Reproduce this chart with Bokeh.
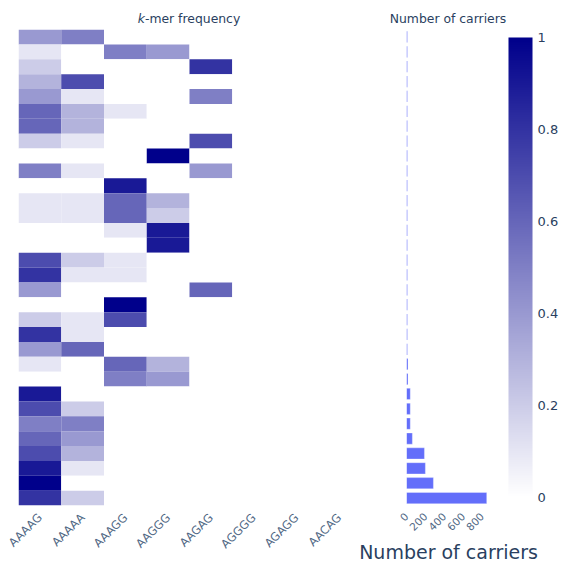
from bokeh.plotting import figure
from bokeh.layouts import row, column
from bokeh.models import (ColumnDataSource, Range1d, LinearColorMapper, ColorBar,
                          FixedTicker, CustomJSTickFormatter, Div)
from bokeh.transform import transform
from bokeh.embed import file_html
from bokeh.resources import INLINE

# ---------------- data ----------------
kmers = ["AAAAG", "AAAAA", "AAAGG", "AAGGG", "AAGAG", "AGGGG", "AGAGG", "AACAG"]
n_rows = 32
rows = list(range(n_rows))

freq_AAAAG = [0.4, 0.1, 0.2, 0.3, 0.4, 0.6, 0.6, 0.2, 0.0, 0.5, 0.0, 0.1, 0.1, 0.0, 0.0, 0.7,
              0.8, 0.4, 0.0, 0.2, 0.8, 0.4, 0.1, 0.0, 0.9, 0.7, 0.5, 0.6, 0.7, 0.9, 1.0, 0.8]
freq_AAAAA = [0.5, 0.0, 0.0, 0.7, 0.1, 0.3, 0.3, 0.1, 0.0, 0.1, 0.0, 0.1, 0.1, 0.0, 0.0, 0.2,
              0.1, 0.0, 0.0, 0.1, 0.1, 0.6, 0.0, 0.0, 0.0, 0.2, 0.5, 0.4, 0.3, 0.1, 0.0, 0.2]
freq_AAAGG = [0.0, 0.5, 0.0, 0.0, 0.0, 0.1, 0.0, 0.0, 0.0, 0.0, 0.9, 0.6, 0.6, 0.1, 0.0, 0.1,
              0.1, 0.0, 1.0, 0.7, 0.0, 0.0, 0.6, 0.5, 0.0, 0.0, 0.0, 0.0, 0.0, 0.0, 0.0, 0.0]
freq_AAGGG = [0.0, 0.4, 0.0, 0.0, 0.0, 0.0, 0.0, 0.0, 1.0, 0.0, 0.0, 0.3, 0.2, 0.9, 0.9, 0.0,
              0.0, 0.0, 0.0, 0.0, 0.0, 0.0, 0.3, 0.4, 0.0, 0.0, 0.0, 0.0, 0.0, 0.0, 0.0, 0.0]
freq_AAGAG = [0.0, 0.0, 0.8, 0.0, 0.5, 0.0, 0.0, 0.7, 0.0, 0.4, 0.0, 0.0, 0.0, 0.0, 0.0, 0.0,
              0.0, 0.6, 0.0, 0.0, 0.0, 0.0, 0.0, 0.0, 0.0, 0.0, 0.0, 0.0, 0.0, 0.0, 0.0, 0.0]
freq_AGGGG = [0.0] * n_rows
freq_AGAGG = [0.0] * n_rows
freq_AACAG = [0.0] * n_rows

carriers = [10, 10, 10, 10, 10, 10, 10, 10, 10, 10, 10, 10, 10, 10, 10, 10,
            10, 10, 10, 10, 10, 10, 16, 16, 40, 40, 40, 62, 190, 200, 285, 850]

colorbar_ticks = [0, 0.2, 0.4, 0.6, 0.8, 1]
carrier_ticks = [0, 200, 400, 600, 800]

# ---------------- build ----------------
columns = [freq_AAAAG, freq_AAAAA, freq_AAAGG, freq_AAGGG, freq_AAGAG,
           freq_AGGGG, freq_AGAGG, freq_AACAG]
xs, ys, vs = [], [], []
for k, col in zip(kmers, columns):
    for r, v in zip(rows, col):
        xs.append(k)
        ys.append(r)
        vs.append(v)
heat_src = ColumnDataSource(dict(kmer=xs, row=ys, val=vs))
bar_src = ColumnDataSource(dict(row=rows, carriers=carriers))

# white -> darkblue palette
palette = []
for i in range(256):
    t = i / 255
    r = round(255 * (1 - t))
    g = round(255 * (1 - t))
    b = round(255 + (139 - 255) * t)
    palette.append("#%02x%02x%02x" % (r, g, b))
mapper = LinearColorMapper(palette=palette, low=0, high=1)

FONT = "DejaVu Sans"
TICK_COLOR = "#506784"
TITLE_COLOR = "#2a3f5f"

title_style = ("padding-top:11px;line-height:15px;text-align:center;white-space:nowrap;"
               "font-family:'DejaVu Sans';font-size:12.4px;color:%s;" % TITLE_COLOR)
div1 = Div(text='<div style="width:378px;%s"><i>k</i>-mer frequency</div>' % title_style,
           width=378, height=29, margin=0)
div2 = Div(text='<div style="width:140px;%s">Number of carriers</div>' % title_style,
           width=140, height=29, margin=0)

p1 = figure(x_range=kmers, y_range=Range1d(n_rows - 0.5, -0.5),
            frame_width=342, frame_height=476,
            min_border_left=18, min_border_right=0, min_border_top=0, min_border_bottom=55,
            output_backend="svg", toolbar_location=None, outline_line_color=None)
p1.rect(x="kmer", y="row", width=1, height=1, source=heat_src,
        fill_color=transform("val", mapper), line_color=None)
p1.yaxis.visible = False
p1.grid.visible = False
p1.xaxis.axis_line_color = None
p1.xaxis.major_tick_line_color = None
p1.xaxis.minor_tick_line_color = None
p1.xaxis.major_label_orientation = 0.785398
p1.xaxis.major_label_text_font = FONT
p1.xaxis.major_label_text_font_size = "11.5px"
p1.xaxis.major_label_text_color = TICK_COLOR
p1.xaxis.major_label_standoff = 4

p2 = figure(x_range=Range1d(0, 890), y_range=Range1d(n_rows - 0.5, -0.5),
            frame_width=84, frame_height=476,
            min_border_left=46, min_border_right=62, min_border_top=0, min_border_bottom=55,
            output_backend="svg", toolbar_location=None, outline_line_color=None)
p2.hbar(y="row", right="carriers", left=0, height=0.75, source=bar_src,
        fill_color="#636efa", line_color="white", line_width=0.3)
p2.yaxis.visible = False
p2.grid.visible = False
p2.xaxis.ticker = FixedTicker(ticks=carrier_ticks)
p2.xaxis.axis_line_color = None
p2.xaxis.major_tick_line_color = None
p2.xaxis.minor_tick_line_color = None
p2.xaxis.major_label_orientation = 0.785398
p2.xaxis.major_label_text_font = FONT
p2.xaxis.major_label_text_font_size = "10.5px"
p2.xaxis.major_label_text_color = TICK_COLOR
p2.xaxis.major_label_standoff = 3
p2.xaxis.axis_label = "Number of carriers"
p2.xaxis.axis_label_text_font = FONT
p2.xaxis.axis_label_text_font_size = "19px"
p2.xaxis.axis_label_text_font_style = "normal"
p2.xaxis.axis_label_text_color = TITLE_COLOR
p2.xaxis.axis_label_standoff = 4

cb = ColorBar(color_mapper=mapper, ticker=FixedTicker(ticks=colorbar_ticks),
              formatter=CustomJSTickFormatter(code="return String(Math.round(tick*10)/10)"),
              width=24, height=460, location=(18, 8), padding=0, margin=0,
              major_tick_line_color=None, bar_line_color=None,
              major_label_text_font=FONT, major_label_text_font_size="13px",
              major_label_text_color=TITLE_COLOR, label_standoff=5,
              background_fill_color=None, border_line_color=None)
p2.add_layout(cb, "right")

layout = column(row(div1, div2), row(p1, p2))
open("out.html", "w").write(file_html(layout, INLINE))
